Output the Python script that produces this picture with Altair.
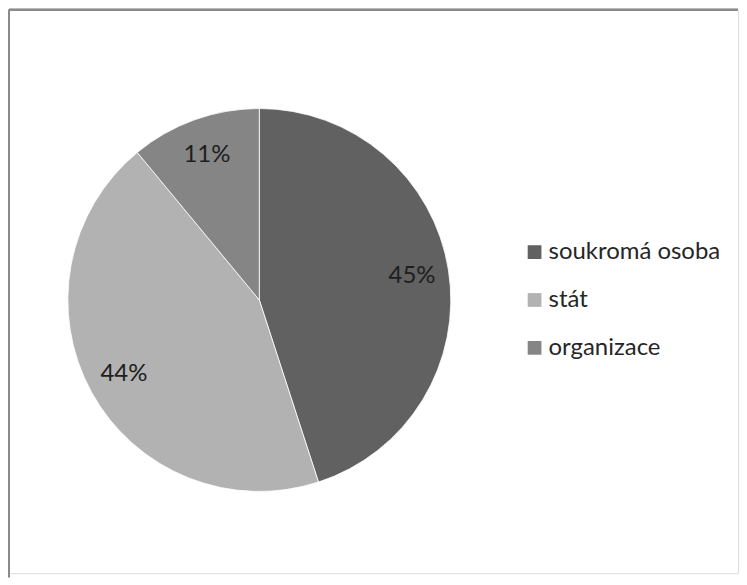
import altair as alt
import pandas as pd

categories = ["soukromá osoba", "stát", "organizace"]
values = [45, 44, 11]
labels = ["45%", "44%", "11%"]
colors = ["#616161", "#b2b2b2", "#858585"]

df = pd.DataFrame({"kat": categories, "val": values, "lab": labels, "ord": [0, 1, 2]})

FONT = "Lato"
CX, CY, R = 251, 291, 192

base = alt.Chart(df).encode(
    theta=alt.Theta("val:Q", stack=True),
    order=alt.Order("ord:Q"),
)

pie = base.mark_arc(radius=R, stroke="#ffffff", strokeWidth=0.8).encode(
    x=alt.value(CX),
    y=alt.value(CY),
    color=alt.Color(
        "kat:N",
        scale=alt.Scale(domain=categories, range=colors),
        sort=categories,
        legend=alt.Legend(
            title=None,
            orient="none",
            legendX=515,
            legendY=231,
            symbolType="square",
            symbolSize=190,
            symbolStrokeWidth=0,
            labelFont=FONT,
            labelFontSize=24,
            labelColor="#262626",
            labelOffset=2,
            labelLimit=400,
            rowPadding=24,
            padding=0,
        ),
    ),
)

text = base.mark_text(radius=155, font=FONT, fontSize=24, color="#1e1e1e",
                      align="center", baseline="middle").encode(
    x=alt.value(CX),
    y=alt.value(CY),
    text="lab:N",
)

border_top = alt.Chart(df).mark_rule(color="#8a8a8a", strokeWidth=2).encode(
    x=alt.value(0), x2=alt.value(731), y=alt.value(0)
)
border_left = alt.Chart(df).mark_rule(color="#8a8a8a", strokeWidth=2).encode(
    x=alt.value(0), y=alt.value(0), y2=alt.value(569)
)

chart = alt.layer(pie, text, border_top, border_left).properties(
    width=731, height=565, padding=0
).configure_view(stroke=None).configure(background="#ffffff")

chart.save("out.html", embed_options={"renderer": "svg", "actions": False})
